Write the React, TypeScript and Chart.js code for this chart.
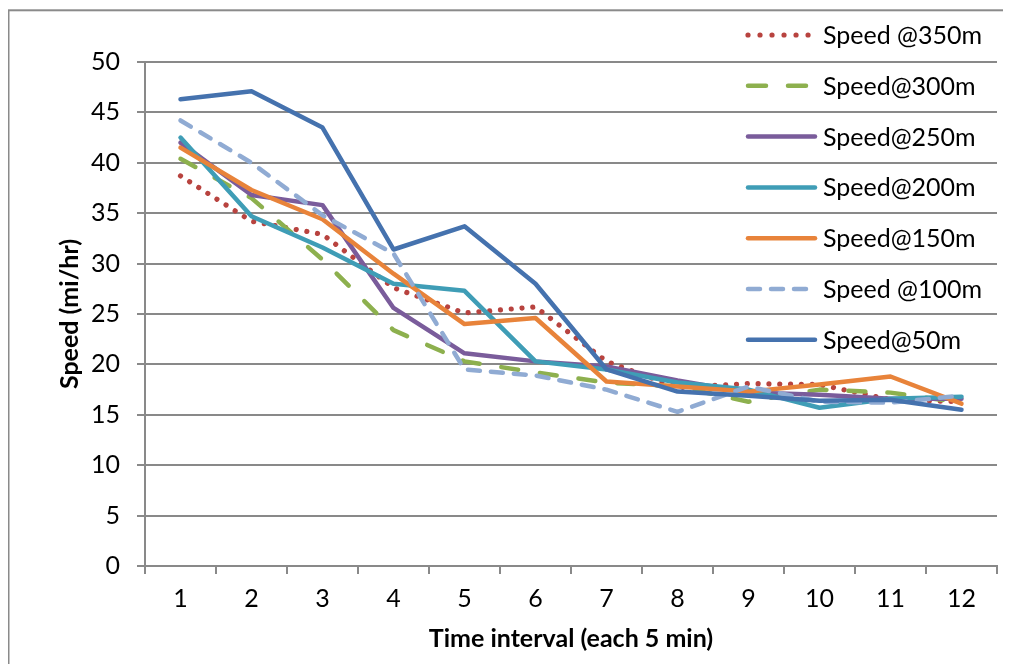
import React, { useEffect, useRef } from "react";
import { Chart, registerables } from "chart.js";

Chart.register(...registerables);

const categories = ["1", "2", "3", "4", "5", "6", "7", "8", "9", "10", "11", "12"];
const seriesLabels = ["Speed @350m", "Speed@300m", "Speed@250m", "Speed@200m", "Speed@150m", "Speed @100m", "Speed@50m"];

const speed350 = [38.7, 34.2, 32.9, 27.6, 25.1, 25.7, 20.3, 17.7, 18.1, 18.0, 16.5, 16.3];
const speed300 = [40.4, 36.5, 30.4, 23.4, 20.3, 19.2, 18.2, 17.8, 16.3, 17.5, 17.2, 16.2];
const speed250 = [42.0, 36.8, 35.8, 25.6, 21.1, 20.3, 19.8, 18.4, 17.2, 17.0, 16.6, 16.6];
const speed200 = [42.5, 34.7, 31.6, 28.0, 27.3, 20.3, 19.5, 18.2, 17.5, 15.7, 16.6, 16.8];
const speed150 = [41.5, 37.3, 34.4, 29.0, 24.0, 24.6, 18.3, 17.8, 17.3, 18.0, 18.8, 16.1];
const speed100 = [44.2, 40.0, 34.8, 31.0, 19.5, 18.9, 17.5, 15.3, 17.8, 16.3, 16.2, 16.9];
const speed50 = [46.3, 47.1, 43.5, 31.4, 33.7, 28.0, 19.5, 17.3, 16.9, 16.4, 16.5, 15.5];

const yTicks = [0, 5, 10, 15, 20, 25, 30, 35, 40, 45, 50];

const FONT = "Lato, 'Open Sans', sans-serif";
const GRID = "#898989";

const W = 1003;
const H = 656;
const AREA_LEFT = 137;
const AREA_RIGHT = 989;
const AREA_TOP = 54;
const AREA_BOTTOM = 558;

const LEGEND_Y0 = 27;
const LEGEND_STEP = 50.8;
const LEGEND_X0 = 740;
const LEGEND_X1 = 807;
const LEGEND_TX = 815;

const frameLegendPlugin = {
  id: "frameLegend",
  beforeDraw(chart: any) {
    const ctx = chart.ctx;
    ctx.save();
    ctx.fillStyle = "#ffffff";
    ctx.fillRect(0, 0, chart.width, chart.height);
    ctx.strokeStyle = "#8a8a8a";
    ctx.lineWidth = 2;
    ctx.strokeRect(0.5, 2.3, chart.width + 20, chart.height + 20);
    ctx.restore();
  },
  afterDraw(chart: any) {
    const ctx = chart.ctx;
    ctx.save();
    ctx.font = `25px ${FONT}`;
    ctx.textBaseline = "middle";
    ctx.textAlign = "left";
    chart.data.datasets.forEach((ds: any, i: number) => {
      const y = LEGEND_Y0 + i * LEGEND_STEP;
      ctx.beginPath();
      ctx.strokeStyle = ds.borderColor;
      ctx.lineWidth = ds.borderWidth;
      ctx.lineCap = ds.borderCapStyle || "butt";
      ctx.setLineDash(ds.legendDash || []);
      ctx.moveTo(LEGEND_X0, y);
      ctx.lineTo(LEGEND_X1, y);
      ctx.stroke();
      ctx.setLineDash([]);
      ctx.fillStyle = "#000000";
      ctx.fillText(ds.label, LEGEND_TX, y + 1);
    });
    ctx.restore();
  },
};

export default function App() {
  const ref = useRef<HTMLCanvasElement>(null);

  useEffect(() => {
    if (!ref.current) return;
    const mk = (label: string, data: number[], color: string, order: number, dash: number[], cap: string, legendDash: number[], width = 4.5) => ({
      label,
      data,
      borderColor: color,
      backgroundColor: color,
      borderWidth: width,
      borderDash: dash,
      borderCapStyle: cap,
      borderJoinStyle: "round",
      pointRadius: 0,
      pointHoverRadius: 0,
      tension: 0,
      fill: false,
      order,
      legendDash,
    });
    const chart = new Chart(ref.current, {
      type: "line",
      data: {
        labels: categories,
        datasets: [
          mk(seriesLabels[0], speed350, "#B8433F", 7, [0.01, 10.8], "round", [0.01, 12], 5.2),
          mk(seriesLabels[1], speed300, "#8DB04E", 6, [17, 22], "round", [18, 22]),
          mk(seriesLabels[2], speed250, "#7A5C9B", 5, [], "round", []),
          mk(seriesLabels[3], speed200, "#3F9DB6", 4, [], "round", []),
          mk(seriesLabels[4], speed150, "#E8833A", 3, [], "round", []),
          mk(seriesLabels[5], speed100, "#90ABD3", 2, [12, 11], "round", [12, 11]),
          mk(seriesLabels[6], speed50, "#4572AE", 1, [], "round", []),
        ] as any,
      },
      options: {
        responsive: false,
        animation: false,
        events: [],
        layout: { padding: { top: AREA_TOP, right: W - AREA_RIGHT, left: 0, bottom: 0 } },
        plugins: {
          legend: { display: false },
          tooltip: { enabled: false },
        },
        scales: {
          x: {
            type: "category",
            offset: true,
            grid: {
              offset: true,
              drawOnChartArea: false,
              drawTicks: true,
              tickLength: 8,
              color: GRID,
              lineWidth: 2,
            },
            border: { display: true, color: GRID, width: 2 },
            ticks: {
              color: "#000",
              font: { family: FONT, size: 25 },
              padding: 10,
              maxRotation: 0,
              autoSkip: false,
            },
            title: {
              display: true,
              text: "Time interval (each 5 min)",
              color: "#000",
              font: { family: FONT, size: 25, weight: "bold" },
              padding: { top: 0, bottom: 10 },
            },
            afterFit: (s: any) => {
              s.height = H - AREA_BOTTOM;
            },
          },
          y: {
            min: 0,
            max: 50,
            afterBuildTicks: (s: any) => {
              s.ticks = yTicks.map((v) => ({ value: v }));
            },
            grid: {
              drawOnChartArea: true,
              drawTicks: true,
              tickLength: 8,
              color: GRID,
              lineWidth: 2,
            },
            border: { display: true, color: GRID, width: 2 },
            ticks: {
              color: "#000",
              font: { family: FONT, size: 25 },
              padding: 17,
            },
            title: {
              display: true,
              text: "Speed (mi/hr)",
              color: "#000",
              font: { family: FONT, size: 25, weight: "bold" },
              padding: { top: 47, bottom: 0 },
            },
            afterFit: (s: any) => {
              s.width = AREA_LEFT;
            },
          },
        },
      },
      plugins: [frameLegendPlugin],
    } as any);
    return () => chart.destroy();
  }, []);

  return (
    <div style={{ width: W, height: H }}>
      <canvas ref={ref} width={W} height={H} style={{ display: "block" }} />
    </div>
  );
}
